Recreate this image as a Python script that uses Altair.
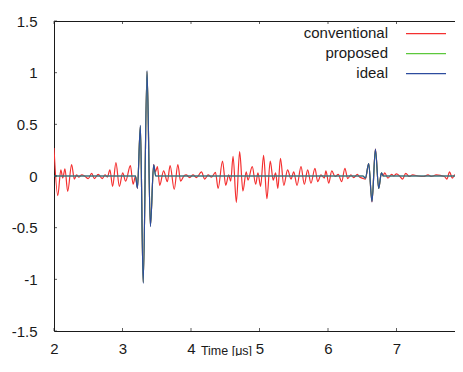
import altair as alt
import pandas as pd

# ---- axis ticks / labels ----
x_ticks = [2, 3, 4, 5, 6, 7, 8]
y_ticks = [-1.5, -1, -0.5, 0, 0.5, 1, 1.5]
x_title = "Time [μs]"

series_names = ["conventional", "proposed", "ideal"]
series_colors = ["#f43030", "#5cc83c", "#2d4c9e"]

# ---- conventional (red) ----
conv_t = [2.00, 2.055, 2.10, 2.128, 2.16, 2.20, 2.257, 2.297, 2.33, 2.36, 2.405, 2.455,
          2.50, 2.55, 2.59, 2.645, 2.705, 2.745, 2.78, 2.816, 2.856, 2.904, 2.954, 3.003,
          3.046, 3.115, 3.155, 3.19,
          3.218, 3.261, 3.302, 3.358, 3.407, 3.455,
          3.48, 3.51, 3.543, 3.60, 3.655, 3.695, 3.755, 3.808, 3.848, 3.896, 3.93, 3.98,
          4.03, 4.08, 4.153, 4.20, 4.25, 4.30, 4.357, 4.396, 4.46, 4.507, 4.55, 4.58,
          4.614, 4.662, 4.71, 4.758, 4.806, 4.832, 4.894, 4.944, 4.977,
          5.016, 5.06, 5.108, 5.157, 5.20, 5.235, 5.268, 5.306, 5.355, 5.41, 5.46, 5.50,
          5.548, 5.606, 5.654, 5.703, 5.751, 5.81, 5.849, 5.897, 5.946, 5.97, 6.01, 6.055,
          6.103, 6.15, 6.20, 6.247, 6.287, 6.335, 6.374, 6.43, 6.46, 6.50,
          6.546, 6.594, 6.642, 6.692, 6.740, 6.78,
          6.80, 6.828, 6.875, 6.93, 6.96, 7.00, 7.045, 7.088, 7.135, 7.185, 7.235, 7.315,
          7.395, 7.46, 7.51, 7.58, 7.70, 7.735, 7.775, 7.815, 7.85, 7.88, 7.915, 7.95,
          7.985, 8.00]
conv_v = [0.27, -0.19, 0.06, -0.02, 0.07, -0.15, 0.11, -0.03, 0.01, -0.01, 0.01, -0.005,
          -0.025, 0.025, -0.025, 0.015, -0.025, 0.01, -0.01, 0.06, -0.10, 0.13, -0.10, 0.03,
          -0.05, 0.10, -0.08, 0.0,
          -0.12, 0.48, -1.03, 1.01, -0.48, 0.11,
          0.04, 0.09, -0.09, 0.05, -0.055, 0.10, -0.13, 0.11, -0.05, 0.0, 0.01, -0.015,
          0.01, -0.015, 0.04, -0.03, 0.01, -0.01, 0.035, -0.12, 0.145, -0.09, 0.01, -0.05,
          0.19, -0.255, 0.235, -0.145, 0.04, -0.04, 0.09, -0.08, 0.03,
          -0.10, 0.20, -0.22, 0.145, -0.04, 0.03, -0.12, 0.17, -0.09, 0.06, -0.03, 0.04,
          -0.09, 0.09, -0.08, 0.06, -0.07, 0.075, -0.055, 0.01, -0.02, 0.05, -0.07, 0.05,
          -0.005, 0.015, -0.055, 0.075, -0.025, 0.01, -0.015, 0.015, -0.01, -0.02,
          -0.03, 0.12, -0.25, 0.26, -0.12, 0.03,
          0.0, 0.03, -0.02, 0.015, 0.0, 0.02, 0.0, -0.03, 0.026, -0.005, 0.01, 0.0,
          -0.005, 0.01, -0.005, 0.01, -0.005, -0.03, 0.04, -0.02, 0.01, -0.015, 0.015, 0.05,
          -0.02, 0.0]

# ---- proposed (green) ----
prop_t = [2.0, 3.19, 3.218, 3.261, 3.302, 3.358, 3.407, 3.455, 3.485,
          6.51, 6.546, 6.594, 6.642, 6.692, 6.740, 6.78, 6.81, 8.0]
prop_v = [0.0, 0.0, -0.11, 0.48, -1.03, 1.01, -0.48, 0.10, 0.0,
          0.0, -0.02, 0.12, -0.24, 0.25, -0.12, 0.03, 0.0, 0.0]

# ---- ideal (blue) ----
ideal_t = [2.0, 3.19, 3.218, 3.261, 3.302, 3.358, 3.407, 3.455, 3.485,
           6.51, 6.546, 6.594, 6.642, 6.692, 6.740, 6.78, 6.81, 8.0]
ideal_v = [0.0, 0.0, -0.12, 0.49, -1.04, 1.02, -0.49, 0.11, 0.0,
           0.0, -0.02, 0.12, -0.25, 0.26, -0.12, 0.03, 0.0, 0.0]

FONT = "Liberation Sans"
INK = "#1a1a1a"

xscale = alt.Scale(domain=[2, 8], nice=False, zero=False)
yscale = alt.Scale(domain=[-1.5, 1.5], nice=False, zero=False)

xaxis = alt.Axis(values=x_ticks, format="d", labelPadding=10, labelFlush=False,
                 labelOverlap=False, labelBound=False, title=x_title,
                 titleFontSize=12.5, titleFontWeight="normal", titleX=172, titleY=23,
                 titleAlign="center", titleBaseline="alphabetic", titleColor=INK)
yaxis = alt.Axis(values=y_ticks, labelExpr="'' + datum.value", labelPadding=17,
                 labelFlush=False, labelOverlap=False, labelBound=False, title=None)


def X(field=None, datum=None):
    if datum is not None:
        return alt.X(datum=datum, scale=xscale, axis=xaxis)
    return alt.X(field, type="quantitative", scale=xscale, axis=xaxis)


def Y(field=None, datum=None):
    if datum is not None:
        return alt.Y(datum=datum, scale=yscale, axis=yaxis)
    return alt.Y(field, type="quantitative", scale=yscale, axis=yaxis)


def series_line(t, v, color):
    df = pd.DataFrame({"t": t, "v": v})
    return alt.Chart(df).mark_line(color=color, strokeWidth=1.2,
                                   interpolate="monotone", clip=True).encode(
        x=X("t"), y=Y("v"))


layers = [
    series_line(conv_t, conv_v, series_colors[0]),
    series_line(prop_t, prop_v, series_colors[1]),
    series_line(ideal_t, ideal_v, series_colors[2]),
]

# inward tick marks (mirror on all sides)
xt = pd.DataFrame({"t": x_ticks})
yt = pd.DataFrame({"v": y_ticks})
layers.append(alt.Chart(xt).mark_tick(orient="vertical", size=3, thickness=1,
                                      yOffset=-1.5, color=INK).encode(
    x=X("t"), y=Y(datum=-1.5)))
layers.append(alt.Chart(xt).mark_tick(orient="vertical", size=3, thickness=1,
                                      yOffset=1.5, color=INK).encode(
    x=X("t"), y=Y(datum=1.5)))
layers.append(alt.Chart(yt).mark_tick(orient="horizontal", size=3, thickness=1,
                                      xOffset=1.5, color=INK).encode(
    y=Y("v"), x=X(datum=2)))

# legend (labels left, line samples right)
dummy = pd.DataFrame({"a": [0]})
for i, (name, color) in enumerate(zip(series_names, series_colors)):
    layers.append(alt.Chart(dummy).mark_text(
        text=name, align="right", baseline="alphabetic", fontSize=15, font=FONT,
        color=INK).encode(x=alt.value(334), y=alt.value(16.5 + 20 * i)))
    layers.append(alt.Chart(dummy).mark_rule(color=color, strokeWidth=1.2).encode(
        x=alt.value(352), x2=alt.value(392), y=alt.value(12.7 + 20 * i)))

chart = alt.layer(*layers).properties(
    width=411, height=310,
    autosize=alt.AutoSizeParams(type="none"),
    padding={"left": 46, "top": 13, "right": -10, "bottom": 25},
    background="white",
).configure_view(stroke=INK, strokeWidth=1).configure_axis(
    grid=False, ticks=False, tickSize=0, domain=False,
    labelFont=FONT, labelFontSize=15, labelColor=INK,
    titleFont=FONT,
)

chart.save("out.html", embed_options={"renderer": "svg", "actions": False})
